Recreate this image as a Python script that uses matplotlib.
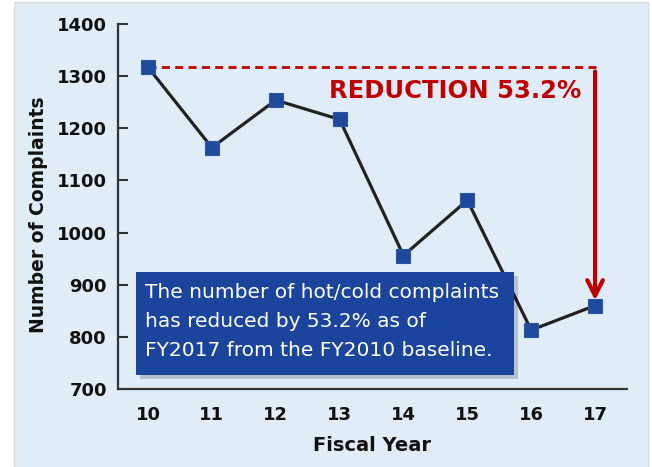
import matplotlib.pyplot as plt
from matplotlib.patches import Rectangle

# data
years = [10, 11, 12, 13, 14, 15, 16, 17]
complaints = [1317, 1163, 1254, 1217, 956, 1062, 813, 860]
y_ticks = [700, 800, 900, 1000, 1100, 1200, 1300, 1400]
reduction_label = "REDUCTION 53.2%"
note = ("The number of hot/cold complaints\n"
        "has reduced by 53.2% as of\n"
        "FY2017 from the FY2010 baseline.")

red = "#c00000"
blue = "#1f4a9c"

fig = plt.figure(figsize=(6.52, 4.67), dpi=100)
fig.patch.set_facecolor("white")

# light blue panel behind everything
fig.add_artist(Rectangle((14 / 652, 0), 634 / 652, 465 / 467, transform=fig.transFigure,
                         facecolor="#e0ecf7", edgecolor="#d4dde6", lw=1, zorder=0))

ax = fig.add_axes([118 / 652, (467 - 389) / 467, 509 / 652, 365 / 467])
ax.set_facecolor("none")

ax.plot(years, complaints, color="#222222", lw=2.3, zorder=3)
ax.plot(years, complaints, linestyle="none", marker="s", markersize=9.5,
        markerfacecolor=blue, markeredgecolor="#2a55aa", markeredgewidth=0.8, zorder=4)

ax.set_xlim(9.53, 17.5)
ax.set_ylim(700, 1400)
ax.set_yticks(y_ticks)
ax.set_xticks(years)

for s in ["top", "right"]:
    ax.spines[s].set_visible(False)
for s in ["left", "bottom"]:
    ax.spines[s].set_color("#333333")
    ax.spines[s].set_linewidth(1.6)

ax.tick_params(axis="y", direction="in", length=7, width=1.5, color="#333333", pad=8,
               labelsize=13, labelcolor="#111111")
ax.tick_params(axis="x", length=0, pad=12, labelsize=13, labelcolor="#111111")
for lab in ax.get_xticklabels() + ax.get_yticklabels():
    lab.set_fontweight("bold")

ax.set_xlabel("Fiscal Year", fontsize=14, fontweight="bold", color="#111111")
ax.set_ylabel("Number of Complaints", fontsize=13.5, fontweight="bold", color="#111111")
ax.xaxis.set_label_coords(0.499, -0.128)
ax.yaxis.set_label_coords(-0.137, 0.477)

# baseline dashed line and reduction arrow
ax.plot([years[0], years[-1] + 0.05], [complaints[0], complaints[0]], color=red, lw=2,
        dashes=(2.9, 1.9), zorder=2)
ax.annotate("", xy=(years[-1], complaints[-1] + 10), xytext=(years[-1], complaints[0] - 8),
            arrowprops=dict(arrowstyle="->", color=red, lw=3, mutation_scale=28,
                            shrinkA=0, shrinkB=0), zorder=5)
ax.text(16.78, 1271, reduction_label, color=red, fontsize=17.5, fontweight="bold",
        ha="right", va="center", zorder=5)

# note box with shadow
fig.add_artist(Rectangle((140 / 652, (467 - 379) / 467), 378 / 652, 103 / 467,
                         transform=fig.transFigure, facecolor="#000000", alpha=0.18,
                         edgecolor="none", zorder=5))
fig.add_artist(Rectangle((136 / 652, (467 - 375) / 467), 378 / 652, 103 / 467,
                         transform=fig.transFigure, facecolor="#1b449c",
                         edgecolor="none", zorder=6))
fig.text(145 / 652, (467 - 283) / 467, note, color="white", fontsize=14.5,
         ha="left", va="top", linespacing=1.68, zorder=7)

fig.savefig("out.png", dpi=100)
